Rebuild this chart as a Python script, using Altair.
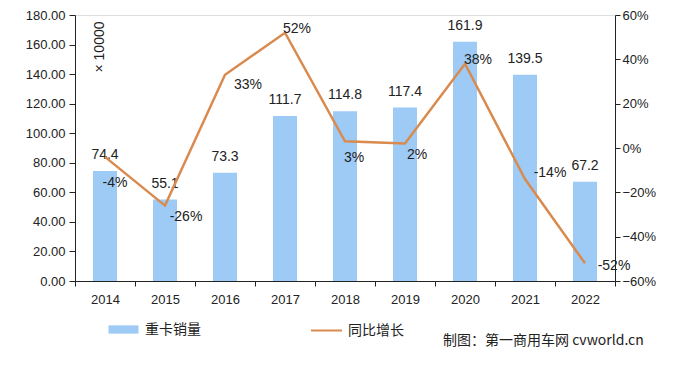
import altair as alt
import pandas as pd

years = ["2014", "2015", "2016", "2017", "2018", "2019", "2020", "2021", "2022"]
sales = [74.4, 55.1, 73.3, 111.7, 114.8, 117.4, 161.9, 139.5, 67.2]
growth_pct = [-4, -26, 33, 52, 3, 2, 38, -14, -52]
left_ticks = [0, 20, 40, 60, 80, 100, 120, 140, 160, 180]
right_ticks = [-0.6, -0.4, -0.2, 0, 0.2, 0.4, 0.6]

bar_name = "重卡销量"
line_name = "同比增长"
credit = "制图：第一商用车网 cvworld.cn"
unit = "× 10000"

# label placement (dx, dy) for growth labels, per year
label_offsets = [(10, 26), (21, 11), (23, 10), (12, -4), (9, 17), (12, 11), (13, -4), (25, -6), (29, 3)]

BLUE = "#9DCBF6"
ORANGE = "#D98A4E"
FONT = "Liberation Sans"
CJK = "Noto Sans CJK SC"

df = pd.DataFrame({
    "year": years,
    "sales": sales,
    "growth": [g / 100 for g in growth_pct],
    "glabel": [f"{g}%" for g in growth_pct],
    "slabel": [f"{s:.1f}" for s in sales],
    "sb": bar_name,
    "sl": line_name,
})

W, H = 540, 266

x = alt.X(
    "year:N",
    sort=years,
    title=None,
    scale=alt.Scale(paddingInner=0, paddingOuter=0),
    axis=alt.Axis(
        labelAngle=0, labelFont=FONT, labelFontSize=13, labelColor="#222",
        tickBand="extent", tickSize=5, tickColor="#222", domainColor="#222",
        labelPadding=7,
    ),
)

y_left = alt.Y(
    "sales:Q",
    title=None,
    scale=alt.Scale(domain=[0, 180]),
    axis=alt.Axis(
        values=left_ticks, format=".2f", grid=False, labelFont=FONT, labelFontSize=13,
        labelColor="#222", tickColor="#222", domainColor="#222", tickSize=6, labelPadding=4,
    ),
)

bars = alt.Chart(df).mark_bar(size=24).encode(
    x=x,
    y=y_left,
    color=alt.Color(
        "sb:N",
        scale=alt.Scale(range=[BLUE]),
        legend=alt.Legend(
            title=None, orient="none", legendX=41, legendY=307,
            symbolType="M-2,-0.55H2V0.55H-2Z", symbolSize=225, symbolStrokeWidth=0,
            labelFont=CJK, labelFontSize=14, labelColor="#222", labelOffset=14,
        ),
    ),
)

bar_text = alt.Chart(df).mark_text(
    baseline="middle", dy=-16, font=FONT, fontSize=14, color="#222"
).encode(x=alt.X("year:N", sort=years), y=y_left, text="slabel:N")

left_layer = alt.layer(bars, bar_text)

y_right = alt.Y(
    "growth:Q",
    title=None,
    scale=alt.Scale(domain=[-0.6, 0.6]),
    axis=alt.Axis(
        orient="right", values=right_ticks, format=".0%", grid=False, labelFont=FONT,
        labelFontSize=13, labelColor="#222", tickColor="#222", domainColor="#222", tickSize=5,
    ),
)

line = alt.Chart(df).mark_line(strokeWidth=2.5).encode(
    x=alt.X("year:N", sort=years),
    y=y_right,
    stroke=alt.Stroke(
        "sl:N",
        scale=alt.Scale(range=[ORANGE]),
        legend=alt.Legend(
            title=None, orient="none", legendX=235, legendY=299,
            symbolType="stroke", symbolSize=961, symbolStrokeWidth=2,
            labelFont=CJK, labelFontSize=14, labelColor="#222", labelOffset=5,
        ),
    ),
)

glayers = []
for yr, (dx, dy) in zip(years, label_offsets):
    glayers.append(
        alt.Chart(df).transform_filter(alt.datum.year == yr).mark_text(
            dx=dx, dy=dy, baseline="middle", font=FONT, fontSize=14, color="#222"
        ).encode(
            x=alt.X("year:N", sort=years),
            y=y_right,
            text="glabel:N",
        )
    )

right_layer = alt.layer(line, *glayers)

unit_text = alt.Chart(pd.DataFrame({"t": [unit]})).mark_text(
    angle=270, font=FONT, fontSize=14, color="#222", baseline="middle"
).encode(x=alt.value(25), y=alt.value(32), text="t:N")

credit_text = alt.Chart(pd.DataFrame({"t": [credit]})).mark_text(
    align="left", baseline="middle", font=CJK, fontSize=14, color="#222"
).encode(x=alt.value(368), y=alt.value(326), text="t:N")

chart = alt.layer(left_layer, right_layer, unit_text, credit_text).resolve_scale(
    y="independent", color="independent", stroke="independent"
).properties(
    width=W, height=H,
    autosize=alt.AutoSizeParams(type="none"),
    padding={"left": 67, "top": 7, "right": 57, "bottom": 79},
).configure_view(stroke=None).configure(background="white")

chart.save("out.html", embed_options={"renderer": "svg", "actions": False})
